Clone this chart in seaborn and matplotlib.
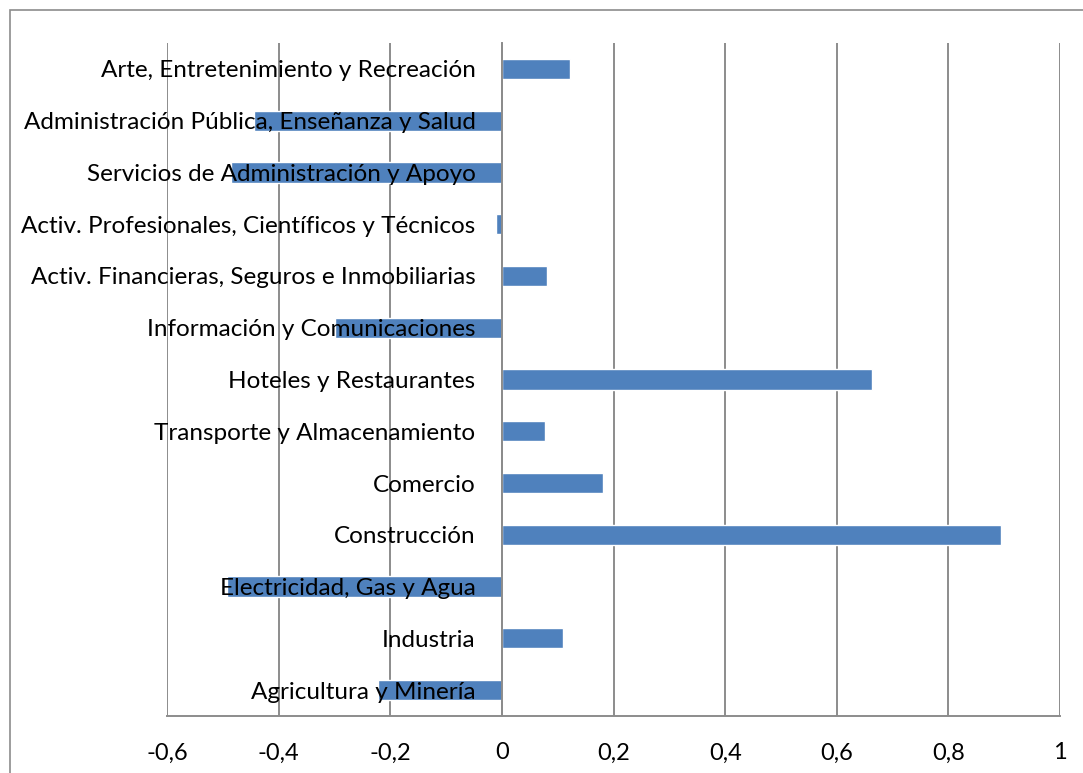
import matplotlib
matplotlib.use("Agg")
import matplotlib.pyplot as plt
import matplotlib.patches as mpatches
from matplotlib.ticker import FixedLocator, FuncFormatter
import pandas as pd
import seaborn as sns

sns.set_theme(style="white")
plt.rcParams['font.family'] = ['Lato', 'DejaVu Sans']

# Sectores, de arriba hacia abajo
sectores = [
    "Arte, Entretenimiento y Recreación",
    "Administración Pública, Enseñanza y Salud",
    "Servicios de Administración y Apoyo",
    "Activ. Profesionales, Científicos y Técnicos",
    "Activ. Financieras, Seguros e Inmobiliarias",
    "Información y Comunicaciones",
    "Hoteles y Restaurantes",
    "Transporte y Almacenamiento",
    "Comercio",
    "Construcción",
    "Electricidad, Gas y Agua",
    "Industria",
    "Agricultura y Minería",
]
valores = [0.122, -0.444, -0.486, -0.011, 0.081, -0.299, 0.663,
           0.077, 0.181, 0.894, -0.493, 0.109, -0.222]
xticks = [-0.6, -0.4, -0.2, 0, 0.2, 0.4, 0.6, 0.8, 1]

df = pd.DataFrame({"Sector": sectores, "Valor": valores})

GRIS = "#8c8c8c"
AZUL = "#4F81BD"

fig = plt.figure(figsize=(10.83, 7.73), dpi=100)
ax = fig.add_axes([167 / 1083, 1 - 716 / 773, (1060 - 167) / 1083, (716 - 43) / 773])
ax.set_axisbelow(False)

# Gridlines vertical primero (detrás de las barras)
for x in xticks:
    ax.axvline(x, color=GRIS, lw=1.4, zorder=0)

sns.barplot(data=df, x="Valor", y="Sector", orient="h", color=AZUL,
            width=0.39, saturation=1, ax=ax, zorder=2)

ax.set_xlim(-0.6, 1.0)
ax.set_ylim(12.5, -0.5)
ax.set_xlabel("")
ax.set_ylabel("")

ax.set_xticks(xticks)
ax.xaxis.set_major_formatter(FuncFormatter(lambda v, p: ("%g" % round(v, 1)).replace(".", ",")))
ax.tick_params(axis="x", direction="out", length=6, width=1.2, color=GRIS,
               labelsize=17, pad=13, labelcolor="black")

# Eje y en el cero
for s in ["top", "right"]:
    ax.spines[s].set_visible(False)
ax.spines["left"].set_position(("data", 0))
ax.spines["left"].set_color(GRIS)
ax.spines["left"].set_linewidth(1.4)
ax.spines["bottom"].set_color(GRIS)
ax.spines["bottom"].set_linewidth(1.4)

ax.yaxis.set_minor_locator(FixedLocator([i - 0.5 for i in range(14)]))
ax.tick_params(axis="y", which="major", length=0, pad=19, labelsize=17.5, labelcolor="black")
ax.tick_params(axis="y", which="minor", direction="out", length=5, width=1.2, color=GRIS)

# Borde exterior del gráfico
fig.patches.append(mpatches.Rectangle((10 / 1083, -0.1), 1.2, 1.1 - 10 / 773,
                                      transform=fig.transFigure, fill=False,
                                      edgecolor=GRIS, lw=1.2))

fig.savefig("out.png", dpi=100)
